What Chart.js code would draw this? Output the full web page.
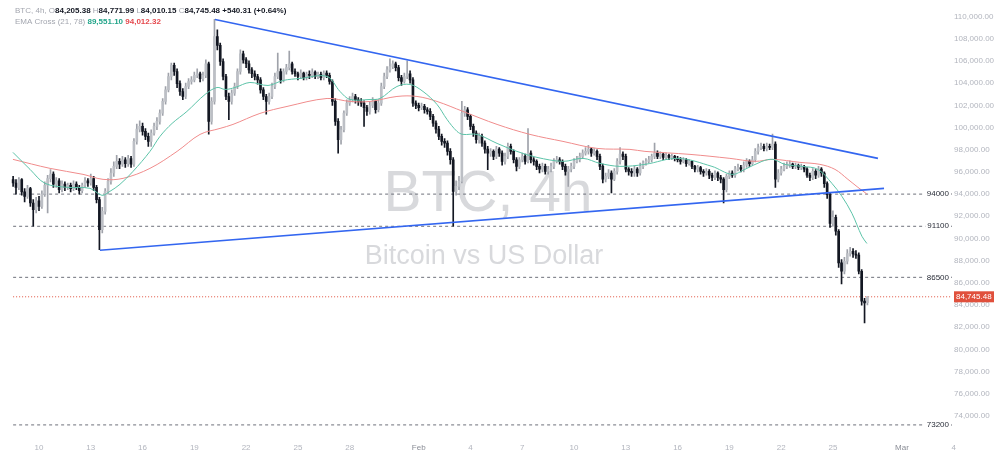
<!DOCTYPE html>
<html><head><meta charset="utf-8">
<script src="https://cdn.jsdelivr.net/npm/chart.js@4.4.1/dist/chart.umd.min.js"></script>
<style>html,body{margin:0;padding:0;background:#fff;}#wrap{position:relative;width:1000px;height:465px;}canvas{display:block;}</style>
</head><body><div id="wrap"><canvas id="c" width="1000" height="465"></canvas></div>
<script>
// ---- DATA (prices in thousands of USD, time in day-of-year; Jan 1 = 1) ----
const firstCandleDay = 8.5;          // Jan 8, 12:00
const candlesPerDay = 6;             // 4h candles
const opens = [
95.3,95.0,94.6,95.3,94.2,93.8,94.5,93.2,92.6,93.4,
92.9,94.0,94.8,95.4,95.8,94.9,95.2,94.4,94.9,94.6,
94.8,94.5,94.9,94.6,94.3,94.8,95.2,95.0,95.4,94.6,
93.5,90.8,92.45,94.25,95.15,95.9,96.5,96.95,96.7,97.1,
96.75,97.2,96.7,98.75,99.85,100.1,99.65,99.2,98.75,99.5,
100.1,100.55,101.3,102.35,103.4,104.6,105.6,105.05,103.95,103.25,
102.8,103.7,104.15,104.3,104.7,104.85,104.4,104.7,105.75,100.55,
102.35,108.2,107.4,105.95,104.6,102.8,102.35,103.1,103.7,105.05,
106.65,106.1,105.75,105.2,104.85,104.6,104.3,103.4,102.8,102.35,
102.8,103.7,104.6,105.05,104.3,105.05,105.4,105.75,105.05,104.85,
104.6,104.9,104.5,104.8,104.7,105.0,104.6,104.8,104.5,104.9,
104.7,104.15,102.35,100.55,98.9,99.8,101.3,102.2,102.5,102.8,
102.5,102.35,102.2,101.8,101.45,102.0,102.35,101.6,102.2,103.7,
104.6,105.2,105.5,105.75,105.4,104.5,104.15,104.6,104.85,104.3,
102.2,102.0,101.8,101.9,101.6,101.45,101.0,100.4,99.85,99.2,
98.75,98.6,97.85,97.1,94.25,94.7,95.15,101.3,101.6,101.0,
100.1,99.5,98.9,99.2,98.6,98.05,97.7,97.85,97.4,98.05,
97.7,96.95,97.4,98.3,97.85,97.1,96.5,97.1,97.4,96.95,
97.7,97.1,96.95,96.5,96.25,96.5,96.05,96.25,96.5,96.95,
97.1,96.95,96.5,96.05,96.25,96.5,96.95,97.1,97.4,97.7,
97.85,98.05,97.7,97.85,97.4,96.5,95.35,95.6,95.9,95.35,
96.05,96.95,97.6,97.4,96.25,96.05,95.9,96.25,95.9,96.5,
96.8,96.95,97.1,97.4,97.7,97.4,97.6,97.3,97.5,97.3,
97.4,97.2,97.1,96.95,97.1,96.75,96.95,96.5,96.25,96.4,
96.05,95.9,96.05,95.7,95.5,95.9,95.5,95.35,94.4,95.6,
95.9,95.7,96.25,96.4,96.25,96.6,96.95,96.75,97.1,97.85,
98.2,98.3,98.1,98.3,98.2,98.5,95.35,95.9,96.25,96.5,
96.6,96.7,96.5,96.6,96.4,96.5,96.25,95.7,95.5,96.05,
95.7,96.25,95.9,94.95,93.95,91.35,91.9,90.65,87.8,87.05,
87.95,88.65,88.85,88.6,88.5,87.05,84.35,84.20538];
const highs = [
95.6,95.3,95.5,95.4,94.5,94.8,94.6,93.5,93.7,93.8,
94.3,95.1,95.7,96.2,96.0,95.5,95.4,95.2,95.1,95.0,
95.0,95.2,95.1,94.8,95.0,95.5,95.4,95.8,95.6,94.8,
93.7,92.8,94.5,95.4,96.3,96.9,97.5,97.2,97.4,97.3,
97.5,97.4,99.0,100.3,100.6,100.4,99.9,99.5,99.8,100.4,
100.9,101.6,102.6,103.7,104.9,105.8,105.8,105.3,104.2,103.5,
104.0,104.4,104.6,105.0,105.3,105.0,105.0,106.1,105.9,102.7,
109.75,108.8,107.6,106.2,104.8,103.1,103.4,104.0,105.3,107.0,
106.9,106.3,106.0,105.4,105.1,104.8,104.5,103.6,103.0,103.1,
104.0,104.9,106.7,105.3,105.3,105.7,106.9,105.9,105.3,105.0,
105.2,105.0,105.0,105.1,105.3,105.1,105.0,105.0,105.1,105.1,
104.9,104.3,102.6,100.8,100.1,101.5,102.5,102.8,103.1,103.0,
102.7,102.6,102.4,102.0,102.3,102.7,102.5,102.5,104.0,104.9,
105.5,106.2,106.0,105.9,105.6,104.7,104.9,106.0,105.1,104.5,
102.4,102.2,102.2,102.1,101.8,101.7,101.2,100.6,100.1,99.4,
99.0,98.8,98.1,97.3,95.2,95.6,102.35,101.9,101.8,101.2,
100.3,99.7,99.5,99.4,98.8,98.3,98.1,98.0,98.3,98.2,
97.9,97.7,98.6,98.5,98.0,97.3,97.3,97.7,97.6,99.9,
97.9,97.3,97.1,96.7,96.8,96.7,96.5,96.8,97.2,97.4,
97.3,97.1,96.7,96.5,96.8,97.2,97.4,97.7,98.0,98.2,
98.4,98.2,98.1,98.0,97.6,96.7,95.9,96.2,96.1,96.3,
97.2,98.2,97.8,97.6,96.4,96.3,96.5,96.4,96.8,97.0,
97.2,97.4,97.6,98.6,97.9,97.8,97.7,97.7,97.6,97.6,
97.5,97.4,97.3,97.3,97.2,97.1,97.0,96.6,96.6,96.5,
96.2,96.3,96.2,95.9,96.1,96.0,95.7,95.5,95.8,96.1,
96.1,96.5,96.7,96.6,96.9,97.2,97.1,97.4,98.1,98.5,
98.6,98.5,98.6,98.5,99.4,98.7,96.2,96.5,96.8,96.9,
97.0,96.8,96.8,96.7,96.7,96.6,96.4,95.9,96.3,96.2,
96.5,96.4,96.0,95.1,94.1,92.5,92.1,90.8,88.1,88.3,
89.0,89.2,89.1,88.9,88.7,87.2,84.6,84.77199];
const lows = [
94.7,94.0,94.4,93.9,93.3,93.6,92.9,91.1,92.3,92.5,
92.7,93.8,92.3,95.1,94.6,94.6,94.1,94.2,94.3,94.4,
94.2,94.3,94.4,94.0,94.1,94.6,94.7,94.8,94.3,93.2,
89.0,90.5,92.2,94.0,94.9,95.6,96.3,96.3,96.5,96.4,
96.5,96.4,96.5,98.5,99.6,99.3,98.9,98.3,98.3,99.3,
99.8,100.3,101.1,102.1,103.2,104.3,104.7,103.6,102.9,102.5,
102.6,103.5,103.9,104.1,104.5,104.1,104.2,104.5,99.4,100.3,
102.1,107.0,105.6,104.3,102.5,100.7,102.1,102.9,103.5,104.8,
105.8,105.4,104.9,104.5,104.3,103.9,103.1,102.5,101.2,102.1,
102.6,103.5,104.4,104.0,104.1,104.8,105.2,104.8,104.6,104.3,
104.4,104.3,104.3,104.4,104.5,104.4,104.4,104.3,104.3,104.5,
103.9,102.0,100.2,97.7,98.5,99.6,101.1,102.0,102.3,102.2,
102.0,101.9,100.1,101.1,101.2,101.8,101.3,101.4,102.0,103.5,
104.4,105.0,105.3,105.1,104.2,103.8,104.0,104.4,104.0,101.9,
101.7,101.5,101.6,101.3,101.2,100.7,100.1,99.5,98.9,98.4,
98.2,97.5,96.7,91.1,93.9,94.4,95.0,101.0,100.7,99.8,
99.2,98.6,98.6,98.3,97.7,96.2,97.4,97.1,97.2,97.4,
96.6,96.7,97.2,97.6,96.8,96.1,96.3,96.9,96.7,96.8,
96.8,96.6,96.2,95.9,96.0,95.8,95.8,96.0,96.3,96.8,
96.7,96.2,95.7,94.7,96.0,96.3,96.8,96.9,97.2,97.5,
97.6,97.4,97.5,97.1,96.2,95.0,95.1,95.4,94.1,95.2,
95.8,96.7,97.1,96.0,95.7,95.6,95.6,95.6,95.7,96.3,
96.6,96.8,96.9,97.2,97.2,97.2,97.1,97.1,97.1,97.1,
97.0,96.9,96.7,96.8,96.5,96.6,96.3,96.0,96.0,95.8,
95.6,95.7,95.4,95.2,95.3,95.2,95.0,93.2,94.2,95.4,
95.5,95.5,96.1,96.0,96.0,96.4,96.5,96.6,96.9,97.6,
98.0,97.9,97.9,98.0,98.0,94.6,95.1,95.7,96.1,96.3,
96.4,96.3,96.3,96.2,96.2,96.0,95.5,95.2,95.3,95.4,
95.5,95.6,94.6,93.6,91.0,91.1,90.3,87.4,85.9,86.8,
87.7,88.4,88.3,88.2,86.8,84.0,82.4,84.01015];
const closes = [
95.0,94.6,95.3,94.2,93.8,94.5,93.2,92.6,93.4,92.9,
94.0,94.8,95.4,95.8,94.9,95.2,94.4,94.9,94.6,94.8,
94.5,94.9,94.6,94.3,94.8,95.2,95.0,95.4,94.6,93.5,
90.8,92.45,94.25,95.15,95.9,96.5,96.95,96.7,97.1,96.75,
97.2,96.7,98.75,99.85,100.1,99.65,99.2,98.75,99.5,100.1,
100.55,101.3,102.35,103.4,104.6,105.6,105.05,103.95,103.25,102.8,
103.7,104.15,104.3,104.7,104.85,104.4,104.7,105.75,100.55,102.35,
108.2,107.4,105.95,104.6,102.8,102.35,103.1,103.7,105.05,106.65,
106.1,105.75,105.2,104.85,104.6,104.3,103.4,102.8,102.35,102.8,
103.7,104.6,105.05,104.3,105.05,105.4,105.75,105.05,104.85,104.6,
104.9,104.5,104.8,104.7,105.0,104.6,104.8,104.5,104.9,104.7,
104.15,102.35,100.55,98.9,99.8,101.3,102.2,102.5,102.8,102.5,
102.35,102.2,101.8,101.45,102.0,102.35,101.6,102.2,103.7,104.6,
105.2,105.5,105.75,105.4,104.5,104.15,104.6,104.85,104.3,102.2,
102.0,101.8,101.9,101.6,101.45,101.0,100.4,99.85,99.2,98.75,
98.6,97.85,97.1,94.25,94.7,95.15,101.3,101.6,101.0,100.1,
99.5,98.9,99.2,98.6,98.05,97.7,97.85,97.4,98.05,97.7,
96.95,97.4,98.3,97.85,97.1,96.5,97.1,97.4,96.95,97.7,
97.1,96.95,96.5,96.25,96.5,96.05,96.25,96.5,96.95,97.1,
96.95,96.5,96.05,96.25,96.5,96.95,97.1,97.4,97.7,97.85,
98.05,97.7,97.85,97.4,96.5,95.35,95.6,95.9,95.35,96.05,
96.95,97.6,97.4,96.25,96.05,95.9,96.25,95.9,96.5,96.8,
96.95,97.1,97.4,97.7,97.4,97.6,97.3,97.5,97.3,97.4,
97.2,97.1,96.95,97.1,96.75,96.95,96.5,96.25,96.4,96.05,
95.9,96.05,95.7,95.5,95.9,95.5,95.35,94.4,95.6,95.9,
95.7,96.25,96.4,96.25,96.6,96.95,96.75,97.1,97.85,98.2,
98.3,98.1,98.3,98.2,98.5,95.35,95.9,96.25,96.5,96.6,
96.7,96.5,96.6,96.4,96.5,96.25,95.7,95.5,96.05,95.7,
96.25,95.9,94.95,93.95,91.35,91.9,90.65,87.8,87.05,87.95,
88.65,88.85,88.6,88.5,87.05,84.35,84.2,84.74548];

// EMA(21): [day, price]
const ema21Days   = [8.49,9.48,10.35,11.62,12.95,13.65,14.11,14.69,15.45,16.43,17.01,17.71,18.57,19.62,20.31,20.78,21.36,22.22,23.27,24.14,25.12,26.69,27.44,28.02,29.18,29.76,30.74,31.50,32.25,33.06,33.64,34.22,34.57,35.38,36.54,37.69,38.85,40.36,41.52,42.50,43.66,45.11,47.02,48.99,50.15,50.90,51.89,52.53,53.22,54.21,55.13,55.94,56.52,57.10,57.68,57.97];
const ema21Values = [97.76,96.23,94.97,94.61,94.52,93.89,94.25,94.88,96.05,97.85,99.2,100.37,101.45,102.98,103.61,103.43,103.61,104.06,103.79,104.24,104.42,104.6,103.25,102.53,102.53,102.62,103.7,103.88,103.25,102.08,100.73,99.65,99.38,99.38,98.57,97.85,97.31,96.95,97.22,96.77,96.5,96.68,97.22,96.5,95.78,96.23,96.95,97.13,96.68,96.5,96.23,94.97,93.8,92.27,90.2,89.55];
// EMA(78)
const ema78Days   = [8.49,10.64,12.55,13.71,14.87,16.43,18.0,19.33,20.49,21.24,22.80,24.37,26.69,28.02,29.18,30.74,31.90,33.06,34.57,36.54,38.45,40.36,42.33,44.24,45.11,47.72,50.03,51.48,52.53,54.09,55.25,56.12,56.87,57.45,57.97];
const ema78Values = [97.13,96.32,95.78,95.33,95.42,96.32,97.85,99.38,99.92,100.28,101.27,101.9,102.62,102.35,102.35,102.8,102.8,102.35,101.45,100.28,99.38,98.75,98.12,98.03,97.85,97.58,97.22,96.95,97.13,96.86,96.68,96.23,95.33,94.61,94.01];

// Trendlines [day, price]
const trendUpperDays = [20.20, 58.61];
const trendUpperVals = [109.73, 97.22];
const trendLowerDays = [13.53, 58.96];
const trendLowerVals = [88.94, 94.52];

// Horizontal levels
const levels = [94.0, 91.1, 86.5, 73.2];
const levelLabels = ['94000', '91100', '86500', '73200'];
const lastPrice = 84.74548;
const lastPriceLabel = '84,745.48';

// Axis ticks
const xTickDays   = [10,13,16,19,22,25,28,32,35,38,41,44,47,50,53,56,60,63];
const xTickLabels = ['10','13','16','19','22','25','28','Feb','4','7','10','13','16','19','22','25','Mar','4'];
const yTickValues = [74,76,78,80,82,84,86,88,90,92,94,96,98,100,102,104,106,108,110];

// Header texts
const headerRow1 = [['BTC, 4h, ','g'],['O','g'],['84,205.38','d'],[' H','g'],['84,771.99','d'],[' L','g'],['84,010.15','d'],[' C','g'],['84,745.48','d'],[' +540.31 (+0.64%)','d']];
const headerRow2 = [['EMA Cross (21, 78) ','g'],['89,551.10','t'],[' 94,012.32','r']];
const watermarkTitle = 'BTC, 4h';
const watermarkSub = 'Bitcoin vs US Dollar';

// ---- CHART ----
const XMIN = 7.74, XMAX = 62.9, YMIN = 72.11, YMAX = 110.88;
const FONT = '"Liberation Sans", Arial, sans-serif';
const UP = '#bcbfc5', DOWN = '#131722';
const candleX = opens.map((_, i) => firstCandleDay + i / candlesPerDay);
const isUp = closes.map((c, i) => c >= opens[i]);
const wickData = candleX.map((x, i) => ({x, y: [lows[i], highs[i]]}));
const bodyData = candleX.map((x, i) => ({x, y: [opens[i], closes[i]]}));
const pts = (xs, ys) => xs.map((x, i) => ({x, y: ys[i]}));

const lineBase = {type: 'line', pointRadius: 0, pointHoverRadius: 0, fill: false, tension: 0};
const datasets = [];
levels.forEach(lv => datasets.push(Object.assign({}, lineBase, {
  data: [{x: firstCandleDay, y: lv}, {x: XMAX, y: lv}],
  borderColor: '#6e717b', borderWidth: 1, borderDash: [3, 3], order: 20
})));
datasets.push(Object.assign({}, lineBase, {
  data: [{x: firstCandleDay, y: lastPrice}, {x: XMAX, y: lastPrice}],
  borderColor: '#e0523f', borderWidth: 1, borderDash: [1, 2], order: 19
}));
datasets.push({type: 'bar', data: wickData, grouped: false, barThickness: 1,
  backgroundColor: isUp.map(u => u ? '#9fa2aa' : DOWN), borderWidth: 0, order: 12});
datasets.push({type: 'bar', data: bodyData, grouped: false, barThickness: 2,
  backgroundColor: isUp.map(u => u ? UP : DOWN), borderWidth: 0, order: 11});
datasets.push(Object.assign({}, lineBase, {data: pts(ema78Days, ema78Values), borderColor: '#f08c8c', borderWidth: 1, tension: 0.35, order: 6}));
datasets.push(Object.assign({}, lineBase, {data: pts(ema21Days, ema21Values), borderColor: '#5cc3a8', borderWidth: 1, tension: 0.35, order: 5}));
datasets.push(Object.assign({}, lineBase, {data: pts(trendUpperDays, trendUpperVals), borderColor: '#3366f0', borderWidth: 1.6, order: 2}));
datasets.push(Object.assign({}, lineBase, {data: pts(trendLowerDays, trendLowerVals), borderColor: '#3366f0', borderWidth: 1.6, order: 2}));

const overlay = {
  id: 'overlay',
  beforeDatasetsDraw(chart) {
    const ctx = chart.ctx;
    ctx.save();
    ctx.fillStyle = 'rgba(125,128,138,0.30)';
    ctx.textAlign = 'center';
    ctx.textBaseline = 'middle';
    ctx.font = '57px ' + FONT;
    ctx.fillText(watermarkTitle, 488, 195);
    ctx.font = '27px ' + FONT;
    ctx.fillText(watermarkSub, 484, 257);
    ctx.restore();
  },
  afterDatasetsDraw(chart) {
    const ctx = chart.ctx, ys = chart.scales.y, area = chart.chartArea;
    ctx.save();
    ctx.font = '8px ' + FONT;
    ctx.textBaseline = 'middle';
    ctx.textAlign = 'right';
    levels.forEach((lv, i) => {
      const y = ys.getPixelForValue(lv);
      const w = ctx.measureText(levelLabels[i]).width;
      const xr = area.right - 3;
      ctx.fillStyle = '#fff';
      ctx.fillRect(xr - w - 2, y - 5, w + 4, 10);
      ctx.fillStyle = '#2a2e39';
      ctx.fillText(levelLabels[i], xr, y);
    });
    const py = ys.getPixelForValue(lastPrice);
    ctx.fillStyle = '#e0503c';
    ctx.fillRect(area.right + 2, py - 5.5, 40, 11);
    ctx.fillStyle = '#fff';
    ctx.textAlign = 'left';
    ctx.fillText(lastPriceLabel, area.right + 4, py + 0.5);
    const colors = {g: '#a3a6af', d: '#131722', t: '#22a58a', r: '#e5484d'};
    const drawRow = (row, x, y) => {
      row.forEach(([txt, c]) => {
        ctx.font = (c === 'g' ? '' : '600 ') + '8px ' + FONT;
        ctx.fillStyle = colors[c];
        ctx.fillText(txt, x, y);
        x += ctx.measureText(txt).width;
      });
    };
    drawRow(headerRow1, 15, 11);
    drawRow(headerRow2, 15, 22);
    ctx.restore();
  }
};

new Chart(document.getElementById('c'), {
  type: 'bar',
  data: {datasets},
  options: {
    responsive: false,
    animation: false,
    devicePixelRatio: 1,
    layout: {padding: 0},
    plugins: {legend: {display: false}, tooltip: {enabled: false}},
    scales: {
      x: {
        type: 'linear', min: XMIN, max: XMAX, offset: false,
        grid: {display: false, drawTicks: false}, border: {display: false},
        ticks: {
          autoSkip: false, maxRotation: 0, padding: 6,
          font: {size: 8, family: FONT},
          color: c => (c.tick && (c.tick.value === 32 || c.tick.value === 60)) ? '#8a8d96' : '#b2b5be',
          callback: v => { const k = xTickDays.indexOf(v); return k >= 0 ? xTickLabels[k] : ''; }
        },
        afterBuildTicks: s => { s.ticks = xTickDays.map(v => ({value: v})); },
        afterFit: s => { s.height = 28; }
      },
      y: {
        type: 'linear', position: 'right', min: YMIN, max: YMAX,
        grid: {display: false, drawTicks: false}, border: {display: false},
        ticks: {
          padding: 2, font: {size: 8, family: FONT}, color: '#b2b5be',
          callback: v => (v * 1000).toLocaleString('en-US', {minimumFractionDigits: 2, maximumFractionDigits: 2})
        },
        afterBuildTicks: s => { s.ticks = yTickValues.map(v => ({value: v})); },
        afterFit: s => { s.width = 48; }
      }
    }
  },
  plugins: [overlay]
});
</script>
</body></html>
